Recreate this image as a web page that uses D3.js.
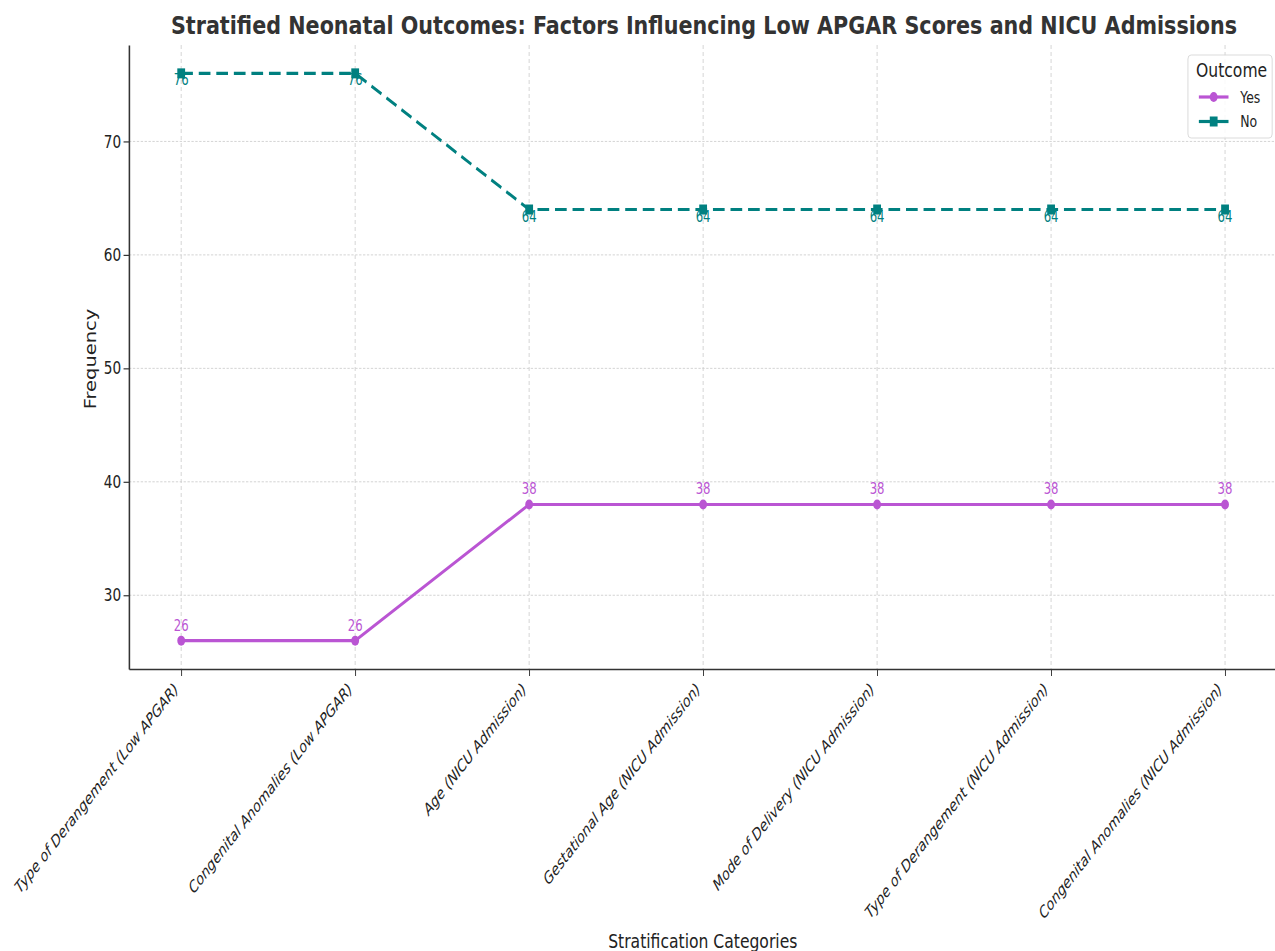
<!DOCTYPE html>
<html>
<head>
<meta charset="utf-8">
<script src="https://cdn.jsdelivr.net/npm/d3@7"></script>
<style>
  body { margin: 0; background: #fff; }
  svg text { font-family: "DejaVu Sans", sans-serif; }
</style>
</head>
<body>
<svg id="chart" width="1275" height="951"></svg>
<script>
// Stratification categories along the x axis
const categories = [
  "Type of Derangement (Low APGAR)",
  "Congenital Anomalies (Low APGAR)",
  "Age (NICU Admission)",
  "Gestational Age (NICU Admission)",
  "Mode of Delivery (NICU Admission)",
  "Type of Derangement (NICU Admission)",
  "Congenital Anomalies (NICU Admission)"
];
// Frequencies per outcome
const yesValues = [26, 26, 38, 38, 38, 38, 38];
const noValues  = [76, 76, 64, 64, 64, 64, 64];
const seriesNames = ["Yes", "No"];
const yTicks = [30, 40, 50, 60, 70];

// The figure is laid out on a wider canvas and compressed horizontally to fit the page.
const SX = 0.78;
const W = 1275 / SX, H = 951;
const svg = d3.select("#chart");
const root = svg.append("g").attr("transform", `scale(${SX},1)`);

const plotLeft = 165.4, plotRight = 1637.5, plotTop = 45, plotBottom = 669;

const x = d3.scaleLinear().domain([-0.3, categories.length - 1 + 0.3]).range([plotLeft, plotRight]);
const y = d3.scaleLinear().domain([23.5, 78.5]).range([plotBottom, plotTop]);

const colYes = "#ba55d3", colNo = "#008080";

// grid
const grid = root.append("g");
grid.selectAll("line.h").data(yTicks).join("line")
  .attr("x1", plotLeft).attr("x2", W)
  .attr("y1", d => y(d)).attr("y2", d => y(d))
  .attr("stroke", "#c8c8c8").attr("stroke-width", 0.9).attr("stroke-dasharray", "3,2");
grid.selectAll("line.v").data(categories).join("line")
  .attr("x1", (d, i) => x(i)).attr("x2", (d, i) => x(i))
  .attr("y1", plotTop).attr("y2", plotBottom)
  .attr("stroke", "#d0d0d0").attr("stroke-width", 1).attr("stroke-dasharray", "4,3");

// axes
const yAxis = d3.axisLeft(y).tickValues(yTicks).tickSize(7).tickPadding(3).tickSizeOuter(0);
const gy = root.append("g").attr("transform", `translate(${plotLeft},0)`).call(yAxis);
gy.select(".domain").attr("stroke", "#333").attr("stroke-width", 2);
gy.selectAll(".tick line").attr("stroke", "#333").attr("stroke-width", 1.2);
gy.selectAll(".tick text").attr("font-size", 17.5).attr("fill", "#222")
  .attr("font-family", "DejaVu Sans, sans-serif");

const xAxis = d3.axisBottom(x).tickValues(d3.range(categories.length))
  .tickFormat(i => categories[i]).tickSize(7).tickSizeOuter(0);
const gx = root.append("g").attr("transform", `translate(0,${plotBottom})`).call(xAxis);
gx.select(".domain").attr("stroke", "#333").attr("stroke-width", 1.6);
gx.selectAll(".tick line").attr("stroke", "#333").attr("stroke-width", 1.2);
gx.selectAll(".tick text")
  .attr("font-size", 16.3).attr("font-style", "italic").attr("fill", "#222")
  .attr("text-anchor", "end").attr("dy", null).attr("y", 0)
  .attr("transform", "translate(-3,21) rotate(-45)")
  .attr("font-family", "DejaVu Sans, sans-serif");

// lines
const line = d3.line().x((d, i) => x(i)).y(d => y(d));
root.append("path").datum(noValues).attr("d", line)
  .attr("fill", "none").attr("stroke", colNo).attr("stroke-width", 3.2).attr("stroke-dasharray", "15,7.5");
root.append("path").datum(yesValues).attr("d", line)
  .attr("fill", "none").attr("stroke", colYes).attr("stroke-width", 3.2);

// markers
root.selectAll("circle.yes").data(yesValues).join("circle")
  .attr("cx", (d, i) => x(i)).attr("cy", d => y(d)).attr("r", 5).attr("fill", colYes);
root.selectAll("rect.no").data(noValues).join("rect")
  .attr("x", (d, i) => x(i) - 5).attr("y", d => y(d) - 5).attr("width", 10).attr("height", 10).attr("fill", colNo);

// value labels
root.selectAll("text.yesLbl").data(yesValues).join("text")
  .attr("x", (d, i) => x(i)).attr("y", d => y(d) - 10)
  .attr("text-anchor", "middle").attr("font-size", 15).attr("fill", colYes).text(d => d);
root.selectAll("text.noLbl").data(noValues).join("text")
  .attr("x", (d, i) => x(i)).attr("y", d => y(d) + 12)
  .attr("text-anchor", "middle").attr("font-size", 15).attr("fill", colNo).text(d => d);

// title and axis labels
root.append("text").attr("x", 902.6).attr("y", 34).attr("text-anchor", "middle")
  .attr("font-size", 25).attr("font-weight", "bold").attr("fill", "#333")
  .attr("textLength", 1367).attr("lengthAdjust", "spacingAndGlyphs")
  .text("Stratified Neonatal Outcomes: Factors Influencing Low APGAR Scores and NICU Admissions");
root.append("text").attr("transform", "translate(122.5,359) rotate(-90)").attr("text-anchor", "middle")
  .attr("font-size", 19.5).attr("fill", "#222").text("Frequency");
root.append("text").attr("x", 901).attr("y", 948).attr("text-anchor", "middle")
  .attr("font-size", 20).attr("fill", "#222").text("Stratification Categories");

// legend
const lg = root.append("g").attr("transform", "translate(1523,55)");
lg.append("rect").attr("width", 108).attr("height", 83).attr("rx", 4)
  .attr("fill", "#fff").attr("fill-opacity", 0.85).attr("stroke", "#d6d6d6");
lg.append("text").attr("x", 56).attr("y", 22).attr("text-anchor", "middle").attr("font-size", 20).attr("fill", "#222").text("Outcome");
seriesNames.forEach((name, k) => {
  const yy = 42 + k * 24.5;
  const c = k === 0 ? colYes : colNo;
  lg.append("line").attr("x1", 14).attr("x2", 52).attr("y1", yy).attr("y2", yy).attr("stroke", c).attr("stroke-width", 3.2);
  if (k === 0) lg.append("circle").attr("cx", 33).attr("cy", yy).attr("r", 5).attr("fill", c);
  else lg.append("rect").attr("x", 28).attr("y", yy - 5).attr("width", 10).attr("height", 10).attr("fill", c);
  lg.append("text").attr("x", 67).attr("y", yy + 6).attr("font-size", 16).attr("fill", "#222").text(name);
});
</script>
</body>
</html>
